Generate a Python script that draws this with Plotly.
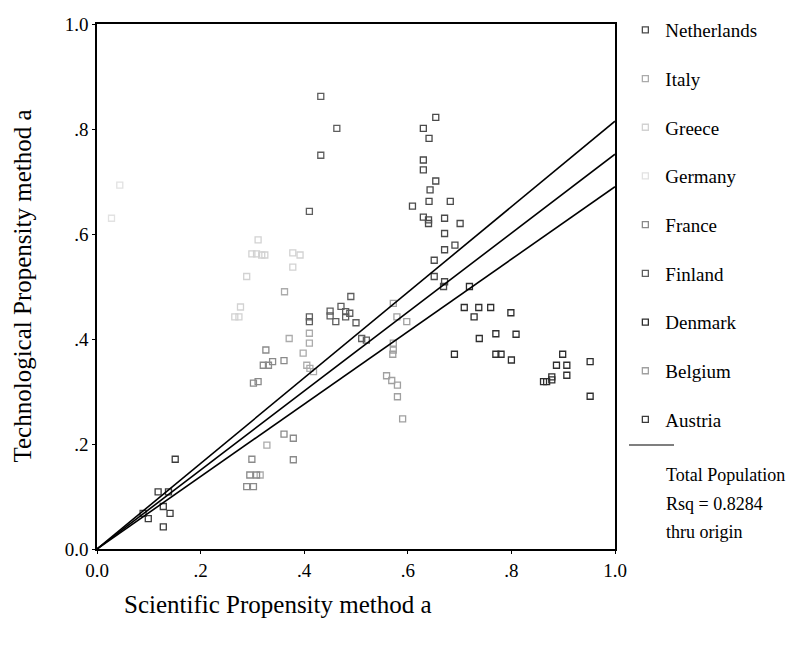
import plotly.graph_objects as go

# ---- data ----
countries = ["Netherlands", "Italy", "Greece", "Germany", "France",
             "Finland", "Denmark", "Belgium", "Austria"]
colors = ["#4a4a4a", "#ababab", "#d2d2d2", "#e2e2e2", "#8a8a8a",
          "#5e5e5e", "#2e2e2e", "#a0a0a0", "#3c3c3c"]

netherlands_x = [.654, .630, .641, .630, .630, .654, .643, .641, .609, .630, .640, .640,
                 .682, .671, .701, .671, .691, .671, .651, .651, .671, .669]
netherlands_y = [.822, .801, .782, .741, .722, .701, .684, .662, .653, .632, .627, .620,
                 .662, .630, .620, .601, .579, .570, .550, .519, .509, .500]

italy_x = [.362, .410, .410, .371, .398, .328, .315, .405, .411, .418]
italy_y = [.490, .411, .392, .401, .373, .198, .141, .350, .344, .338]

greece_x = [.311, .299, .308, .318, .324, .289, .277, .266, .274, .378, .392, .378]
greece_y = [.589, .562, .562, .560, .560, .519, .461, .442, .442, .564, .560, .537]

germany_x = [.028, .044]
germany_y = [.630, .693]

france_x = [.326, .321, .331, .302, .311, .339, .361, .299, .295, .308, .289, .302,
            .361, .379, .379]
france_y = [.379, .350, .350, .316, .319, .357, .359, .171, .141, .141, .119, .119,
            .219, .211, .170]

finland_x = [.432, .463, .432, .410, .490, .471, .450, .450, .480, .488, .480, .461,
             .500, .410, .410, .511, .520]
finland_y = [.862, .801, .750, .643, .481, .462, .453, .444, .452, .449, .442, .433,
             .431, .442, .433, .401, .398]

denmark_x = [.719, .709, .737, .760, .728, .799, .770, .738, .809, .690, .770, .780,
             .899, .800, .952, .887, .907, .907, .862, .868, .878, .878, .952]
denmark_y = [.500, .460, .460, .460, .442, .450, .410, .401, .409, .371, .371, .371,
             .371, .360, .357, .350, .350, .331, .319, .319, .322, .328, .291]

belgium_x = [.572, .579, .598, .572, .572, .571, .559, .569, .580, .580, .590]
belgium_y = [.468, .442, .433, .392, .379, .371, .330, .321, .312, .290, .248]

austria_x = [.151, .118, .138, .089, .099, .128, .141, .128]
austria_y = [.171, .109, .109, .068, .058, .081, .068, .042]

series_x = [netherlands_x, italy_x, greece_x, germany_x, france_x,
            finland_x, denmark_x, belgium_x, austria_x]
series_y = [netherlands_y, italy_y, greece_y, germany_y, france_y,
            finland_y, denmark_y, belgium_y, austria_y]

# regression through origin: fit and 95% mean bands (slopes)
fit_x = [0.0, 1.0]
slope_fit = 0.752
slope_upper = 0.815
slope_lower = 0.690

tick_vals = [0.0, 0.2, 0.4, 0.6, 0.8, 1.0]
tick_text = ["0.0", ".2", ".4", ".6", ".8", "1.0"]

FONT = "Liberation Serif, Times New Roman, serif"

fig = go.Figure()

for name, col, xs, ys in zip(countries, colors, series_x, series_y):
    fig.add_trace(go.Scatter(
        x=xs, y=ys, mode="markers", name=name, legendgroup=name,
        marker=dict(symbol="square-open", size=6, color=col,
                    line=dict(width=1.3, color=col)),
    ))

for s in [slope_upper, slope_fit, slope_lower]:
    fig.add_trace(go.Scatter(
        x=fit_x, y=[s * v for v in fit_x], mode="lines",
        line=dict(color="black", width=1.6), showlegend=False, hoverinfo="skip",
    ))

fig.update_layout(
    width=792, height=645,
    margin=dict(l=97, r=177, t=24, b=96, autoexpand=False),
    paper_bgcolor="white", plot_bgcolor="white",
    font=dict(family=FONT, color="black", size=19),
    showlegend=True,
    legend=dict(
        x=1.02, xanchor="left", yref="container", y=1 - 11 / 645, yanchor="top",
        maxheight=620,
        font=dict(family=FONT, size=19, color="black"),
        traceorder="grouped", tracegroupgap=21,
        bgcolor="rgba(0,0,0,0)", itemsizing="trace",
    ),
    xaxis=dict(
        range=[0, 1], tickvals=tick_vals, ticktext=tick_text, automargin=False,
        showgrid=False, zeroline=False, showline=True, linecolor="black",
        linewidth=1.5, mirror=True, ticks="outside", ticklen=3,
        tickcolor="black", tickfont=dict(family=FONT, size=19),
    ),
    yaxis=dict(
        range=[0, 1], tickvals=tick_vals, ticktext=tick_text, automargin=False,
        showgrid=False, zeroline=False, showline=True, linecolor="black",
        linewidth=1.5, mirror=True, ticks="outside", ticklen=3,
        tickcolor="black", tickfont=dict(family=FONT, size=19),
    ),
    annotations=[
        dict(text="Scientific Propensity method a", xref="paper", yref="paper",
             x=(122 - 97) / 518, y=(549 - 604) / 525, xanchor="left", yanchor="middle",
             showarrow=False, font=dict(family=FONT, size=25)),
        dict(text="Technological Propensity method a", xref="paper", yref="paper",
             x=(22 - 97) / 518, y=0.5, xanchor="center", yanchor="middle",
             textangle=-90, showarrow=False, font=dict(family=FONT, size=25)),
        dict(text="Total Population", xref="paper", yref="paper",
             x=(664 - 97) / 518, y=(549 - 475) / 525, xanchor="left", yanchor="middle",
             showarrow=False, font=dict(family=FONT, size=18)),
        dict(text="Rsq = 0.8284", xref="paper", yref="paper",
             x=(664 - 97) / 518, y=(549 - 504) / 525, xanchor="left", yanchor="middle",
             showarrow=False, font=dict(family=FONT, size=18)),
        dict(text="thru origin", xref="paper", yref="paper",
             x=(664 - 97) / 518, y=(549 - 532) / 525, xanchor="left", yanchor="middle",
             showarrow=False, font=dict(family=FONT, size=18)),
    ],
    shapes=[
        dict(type="line", xref="paper", yref="paper",
             x0=(629 - 97) / 518, x1=(674 - 97) / 518,
             y0=(549 - 445) / 525, y1=(549 - 445) / 525,
             line=dict(color="black", width=1.2)),
    ],
)

fig.write_html("out.html")
